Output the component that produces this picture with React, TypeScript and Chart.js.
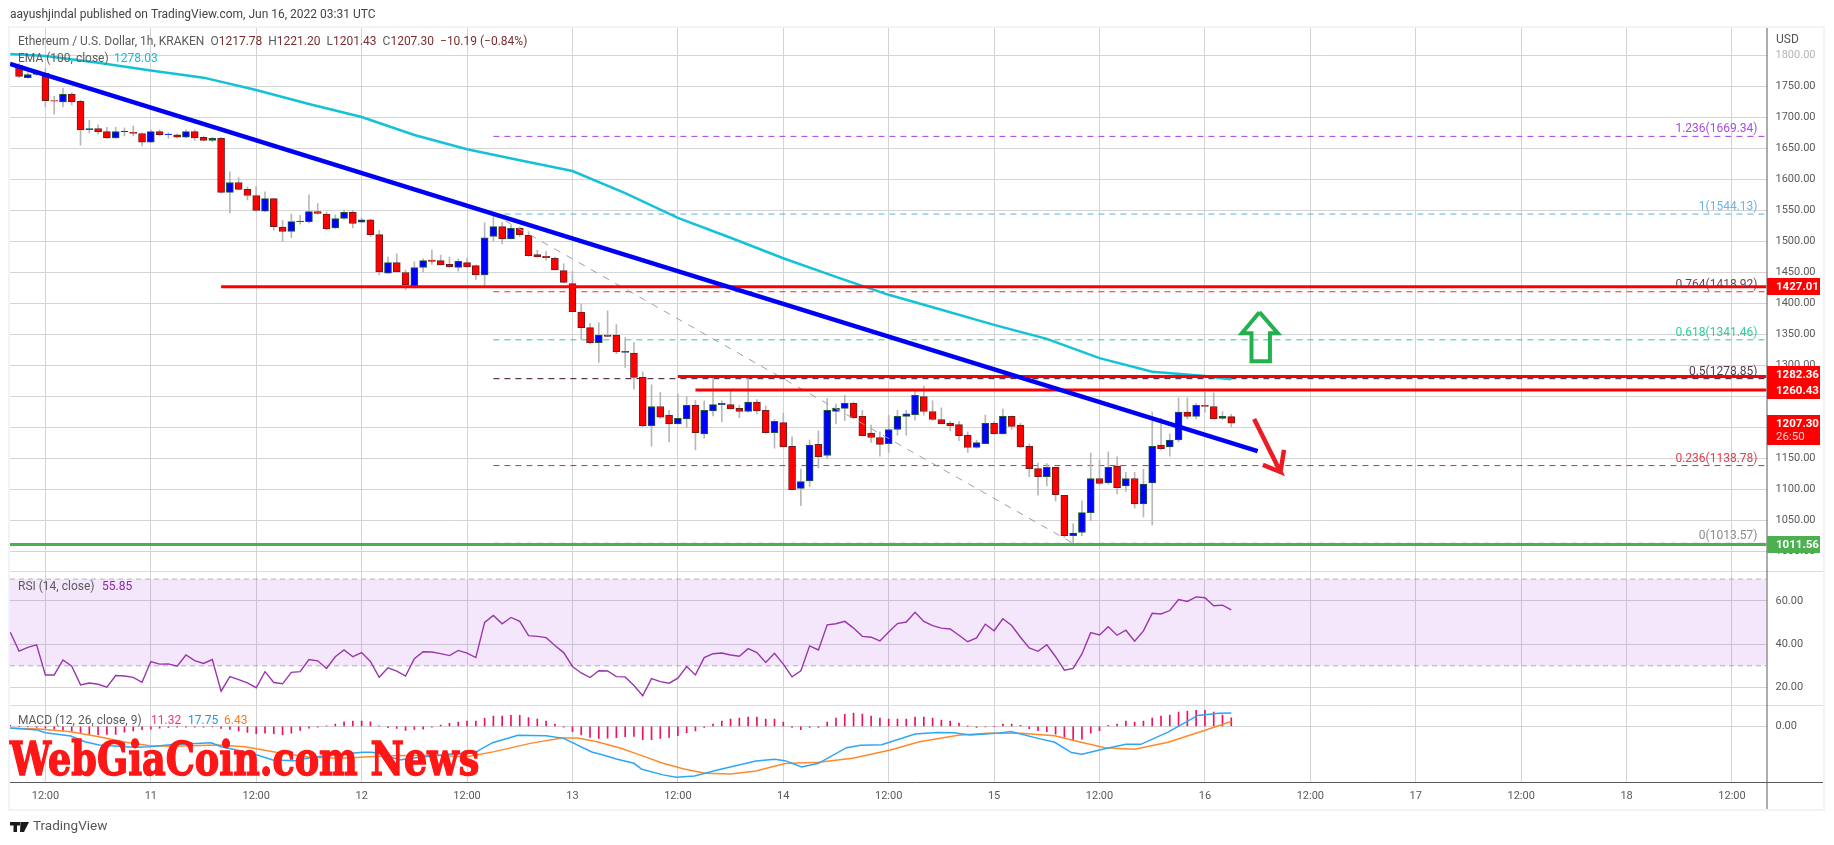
import React, { useEffect, useRef } from "react";
import { Chart, registerables } from "chart.js";

Chart.register(...registerables);

// x positions are hours since 10 Jun 12:00
const firstCandleHour = -3;
const opens = [1784,1764,1769,
1771,1727,1725,1737,1726,1680,1682,1677,1667,1677,
1676,1674,1660,1677,1672,1672,1668,1677,1668,1663,
1666,1579,1595,1584,1574,1549,1569,1523,1516,1532,
1532,1548,1544,1522,1537,1547,1531,1535,1511,1449,
1466,1450,1425,1458,1470,1469,1463,1458,1466,1461,
1446,1508,1524,1504,1521,1510,1479,1476,1473,1453,
1432,1386,1361,1337,1349,1349,1321,1320,1281,1203,
1234,1220,1206,1214,1236,1190,1227,1237,1237,1231,
1226,1241,1228,1192,1208,1170,1102,1114,1173,1155,
1226,1231,1239,1218,1191,1184,1174,1197,1218,1221,
1250,1226,1213,1207,1205,1188,1168,1174,1207,1190,
1218,1204,1170,1134,1121,1136,1091,1026,1031,1063,
1118,1111,1138,1106,1118,1077,1111,1172,1169,1180,
1225,1218,1236,1234,1215,1217.78];
const closes = [1766,1769,1773,
1727,1726,1737,1725,1680,1682,1677,1667,1677,1678,
1674,1660,1677,1672,1673,1668,1677,1667,1663,1666,
1579,1595,1584,1574,1550,1569,1524,1516,1532,1533,
1548,1545,1520,1537,1547,1529,1535,1511,1451,1466,
1451,1430,1458,1469,1468,1462,1459,1468,1459,1446,
1506,1524,1504,1521,1511,1477,1475,1474,1454,1434,
1387,1361,1337,1349,1347,1322,1323,1281,1203,1234,
1217,1206,1215,1236,1192,1228,1237,1239,1230,1226,
1241,1227,1192,1210,1169,1100,1113,1172,1153,1228,
1231,1239,1216,1187,1184,1173,1197,1218,1222,1252,
1226,1213,1206,1203,1187,1168,1176,1207,1190,1218,
1202,1169,1134,1121,1136,1092,1026,1030,1063,1118,
1110,1136,1103,1118,1077,1109,1170,1166,1180,1225,
1218,1236,1234,1214,1218,1207.30];
const highs = [1787,1772,1776,
1779,1734,1747,1740,1728,1695,1688,1684,1684,1683,
1686,1675,1680,1680,1675,1673,1680,1680,1670,1668,
1668,1612,1603,1588,1589,1580,1569,1534,1544,1542,
1575,1561,1547,1543,1551,1550,1538,1536,1518,1475,
1480,1454,1467,1472,1486,1478,1475,1472,1473,1462,
1530,1541,1531,1526,1523,1516,1486,1484,1475,1464,
1452,1399,1368,1369,1388,1366,1345,1337,1290,1269,
1257,1228,1254,1250,1244,1243,1281,1243,1259,1236,
1279,1245,1235,1213,1223,1185,1133,1180,1195,1247,
1238,1252,1241,1228,1204,1193,1220,1228,1228,1261,
1267,1243,1232,1210,1210,1193,1180,1220,1210,1230,
1219,1207,1174,1143,1142,1136,1091,1045,1082,1159,
1148,1161,1153,1128,1128,1133,1225,1215,1190,1248,
1248,1239,1257,1256,1226,1221.20];
const lows = [1764,1763,1768,
1717,1705,1717,1720,1655,1675,1673,1666,1666,1670,
1670,1654,1659,1670,1666,1667,1667,1663,1662,1661,
1578,1546,1583,1567,1549,1548,1518,1500,1506,1528,
1530,1544,1519,1521,1536,1522,1530,1508,1446,1449,
1451,1422,1425,1451,1463,1462,1458,1452,1458,1439,
1428,1501,1496,1504,1508,1476,1475,1470,1454,1433,
1386,1342,1335,1305,1346,1319,1297,1262,1201,1170,
1215,1177,1206,1200,1164,1183,1219,1209,1230,1216,
1225,1222,1191,1167,1169,1099,1074,1105,1135,1150,
1206,1211,1215,1187,1176,1154,1160,1188,1188,1212,
1220,1212,1206,1195,1179,1160,1167,1174,1190,1190,
1197,1168,1121,1091,1106,1082,1023,1014,1026,1050,
1109,1109,1093,1097,1070,1056,1043,1164,1154,1177,
1214,1214,1225,1214,1213,1201.43];

const emaHours = [-4,0,6,12,18,24,30,36,42,48,54,60,66,72,78,84,90,96,102,108,114,120,126,132,135];
const emaValues = [1802,1799,1788,1775.5,1764,1744,1721.5,1700.5,1671.5,1648.5,1631,1613.5,1578,1538,1506,1473,1443,1414,1390,1365.5,1343,1312,1290,1283,1278.03];

const trendHours = [-4.03,138];
const trendPrices = [1786,1162];

const firstIndicatorHour = -4;
const rsiValues = [45.5,36.8,38.5,39.7,25.8,25.8,32.7,29.8,21.2,22.1,21.5,20.2,25.5,25.3,24.7,22.4,32,30.8,30.9,29.8,35,32.4,31.1,32.9,18.3,25,23.6,22.1,19.9,27.3,22.3,21.7,27,27.3,32.9,32.3,28.8,34.2,37.3,34.2,36.1,32,24.7,29.1,27.6,25.3,33.3,36.5,36.4,35.6,34.7,37.1,35.9,33.8,50,53.2,49.4,52.3,50.5,43.9,43.6,43,39.4,36.1,29.7,26.7,24.6,27.7,27.6,25,24.9,20.9,16.2,24.1,22.7,22,24.3,29.7,25.8,33.8,35.6,35.9,35,34.4,37.9,36.1,31.5,35.8,30.8,24.9,27.7,39.2,37.3,48.9,49.4,50.5,47.4,43.6,43.2,41.5,45.6,49.5,50.2,54.7,50.5,48.5,47.4,47,44.1,41.1,42.9,49.2,46.2,51.7,48.6,43.2,38.3,36.7,39.7,34.2,28,28.8,35.5,45.3,44.2,48,44.1,46.4,41.4,46.1,54.2,53.9,55.5,60.6,59.7,61.8,61.4,57.7,58,55.85];
const macdHist = [1.3,0,-0.4,-1.3,-2.2,-3.5,-5.3,-6.6,-8.8,-11,-11,-10.5,-10.5,-7.5,-6.1,-4.4,-3.5,-2.2,-1.3,-0.9,-0.9,-0.9,-0.9,-0.4,-2.6,-3.9,-6.1,-7.9,-9.6,-8.8,-9.6,-11,-8.8,-5.3,-2.2,-0.9,0.9,3.1,6.1,7,7,6.1,0.9,-1.8,-2.6,-5.3,-3.9,-3.5,-0.9,1.8,3.9,5.7,7,7,10.5,13.6,13.6,14.5,14.5,11.8,9.6,7,3.1,-0.9,-6.6,-11.4,-14.5,-15.8,-15.4,-14.9,-13.6,-13.2,-17.5,-17.5,-15.8,-14.5,-12.3,-8.3,-6.1,-1.3,3.1,7,9.6,11,12.3,12.3,9.6,9.6,5.7,-1.3,-4.4,-1.3,-1.3,5.7,11,15.8,17.5,16.2,13.6,11,9.6,9.6,9.6,12.3,12.3,11,8.3,7,4.4,0.4,-1.3,-0.4,0,3.1,3.1,1.3,-3.1,-5.7,-7,-10.1,-14.5,-18.4,-16.7,-8.8,-5.7,1.3,3.1,7,5.7,7,11,13.6,14.9,18.9,20.2,21.1,21.1,18.9,14.9,11.32];

const macdHours = [-4,-0.9,0,2.9,4.5,6.1,7.9,10.1,11.9,14.2,18.9,20,21.8,24.1,25.9,28.4,30.4,33.6,36.1,37.2,38.7,40.3,42.6,46.2,48.9,50.9,53.8,57,59,62.2,63.1,65,67,67.9,70.3,71.8,73.9,76.5,80.9,83,84.2,86.1,88,91.2,92.8,95.2,99,101.5,103.4,105.3,108.2,109.9,113,114.9,116.8,118,120.6,123,124.7,127.8,131.2,133.6,135];
const macdValues = [-2.2,-4.8,-8.3,-12.7,-20.2,-24.6,-25.9,-27.6,-26.8,-24.1,-21.5,-26.8,-31.1,-37.7,-44.3,-45.2,-40.8,-36.8,-34.2,-34.2,-37.7,-44.3,-40.8,-36.4,-34.6,-21.5,-11.8,-12.3,-15.8,-33.8,-36.4,-43,-48.7,-56.6,-64,-67.1,-65.4,-57.5,-45.6,-43.4,-45.2,-53.5,-48.7,-28.1,-25,-24.1,-10.1,-7.9,-8.3,-11.4,-9.2,-6.6,-15.8,-21,-34.6,-36.8,-29.4,-23.7,-23.7,-7.5,14.5,17.5,17.75];
const signalHours = [-4,-0.7,2.9,6.1,9.2,11.9,14.6,19.6,22.7,26.4,30,33.6,35.4,39,44.4,48,51.1,55.2,58.8,60.6,62.8,65.5,67.9,70.3,72.7,75.1,78,80.9,84.2,88,91.9,96.2,99.5,103.9,107.2,111,114.9,117.3,120.6,124,127.8,132.1,135];
const signalValues = [-2.6,-3.5,-7,-13.6,-21,-25.4,-26.3,-24.6,-26.8,-34.6,-40.8,-42.1,-41.2,-38.6,-38.2,-39.9,-33.3,-22.4,-15.4,-15.4,-20.2,-28.9,-38.6,-48.7,-56.1,-61.8,-62.7,-58.8,-49.1,-47.4,-42.1,-31.1,-20.2,-11.8,-9.2,-9.2,-12.3,-19.3,-28.1,-30.3,-21,-4.8,6.43];

const fibLevels = ["1.236","1","0.764","0.618","0.5","0.236","0"];
const fibPrices = [1669.34,1544.13,1418.92,1341.46,1278.85,1138.78,1013.57];
const fibColors = ["#a53be0","#5ab0e6","#e0303a","#2fc996","#3a0a30","#c9303a","#9a9a9a"];
const fibLabelColors = ["#a84be0","#6ab4e8","#7a3a50","#2fcf9a","#5a3a55","#e0404a","#8a8a8a"];
const fibStartHour = 51;
const fibEndHour = 195.7;
const fibDiagonalHours = [51,117];
const fibDiagonalPrices = [1544.13,1013.57];

const resistanceLevels = [1427.01,1282.36,1260.43];
const resistanceStarts = [20,72,74];
const supportLevel = 1011.56;

const priceTicks = [1000,1050,1100,1150,1200,1250,1300,1350,1400,1450,1500,1550,1600,1650,1700,1750,1800];
const rsiTicks = [20,40,60];
const macdTicks = [0];
const timeTickHours = [0,12,24,36,48,60,72,84,96,108,120,132,144,156,168,180,192];
const timeTickLabels = ["12:00","11","12:00","12","12:00","13","12:00","14","12:00","15","12:00","16","12:00","17","12:00","18","12:00"];

const upArrowHours = [138.2,140.3,139.4,139.4,137.3,137.3,136.2,138.2];
const upArrowPrices = [1386,1352,1352,1307,1307,1352,1352,1386];
const downArrowHours = [137.6,140.6,138.6,140.6,141];
const downArrowPrices = [1214,1128.5,1140,1128.5,1164];

const xMin = -4.03, xMax = 195.93;
const FONT = "Roboto, 'Open Sans', sans-serif";
const pts = (xs: number[], ys: number[]) => xs.map((x, i) => ({ x, y: ys[i] }));
const GRID = "#d4d4d4";

const overlay = {
  id: "overlay",
  beforeDraw(chart: any) {
    const c = chart.ctx;
    c.save();
    c.fillStyle = "#fff";
    c.fillRect(0, 0, 1834, 845);
    c.restore();
  },
  afterDraw(chart: any) {
    const c = chart.ctx;
    const sp = chart.scales.yPrice;
    const area = chart.chartArea;
    const R = area.right;
    c.save();

    // frame, separators and axes
    c.strokeStyle = "#f0f3fa";
    c.lineWidth = 2;
    c.strokeRect(9, 27, 1815, 783);
    c.strokeStyle = "#dcdcdc";
    c.lineWidth = 1;
    c.beginPath();
    c.moveTo(10, 571.5); c.lineTo(1823, 571.5);
    c.moveTo(10, 705.5); c.lineTo(1823, 705.5);
    c.stroke();
    c.strokeStyle = "#5a5a5a";
    c.beginPath();
    c.moveTo(10, 782.5); c.lineTo(1823, 782.5);
    c.moveTo(R + 0.5, 28); c.lineTo(R + 0.5, 809);
    c.stroke();

    const text = (s: string, x: number, y: number, color: string, font: string, align: CanvasTextAlign = "left") => {
      c.font = font;
      c.fillStyle = color;
      c.textAlign = align;
      c.textBaseline = "middle";
      c.fillText(s, x, y);
      return x + c.measureText(s).width;
    };

    const small = `12px ${FONT}`;
    text("aayushjindal published on TradingView.com, Jun 16, 2022 03:31 UTC", 10, 15, "#444", small);

    // legend
    const legend = `12px ${FONT}`;
    const dark = "#5a5a5a", val = "#7a2e2e";
    let x = 18;
    x = text("Ethereum / U.S. Dollar, 1h, KRAKEN", x, 42, dark, legend) + 6;
    x = text("O", x, 42, dark, legend);
    x = text("1217.78", x, 42, val, legend) + 6;
    x = text("H", x, 42, dark, legend);
    x = text("1221.20", x, 42, val, legend) + 6;
    x = text("L", x, 42, dark, legend);
    x = text("1201.43", x, 42, val, legend) + 6;
    x = text("C", x, 42, dark, legend);
    x = text("1207.30", x, 42, val, legend) + 6;
    text("−10.19 (−0.84%)", x, 42, val, legend);
    text("EMA (100, close)", 18, 59, dark, legend);
    text("1278.03", 114, 59, "#17bcd4", legend);
    text("RSI (14, close)", 18, 587, dark, legend);
    text("55.85", 102, 587, "#8e24aa", legend);
    text("MACD (12, 26, close, 9)", 18, 721, dark, legend);
    text("11.32", 151, 721, "#f5347f", legend);
    text("17.75", 188, 721, "#2196f3", legend);
    text("6.43", 224, 721, "#ff7a1a", legend);
    text("USD", 1776, 40, "#555", small);

    // fib labels
    fibLevels.forEach((lv, i) => {
      const y = sp.getPixelForValue(fibPrices[i]);
      text(`${lv}(${fibPrices[i].toFixed(2)})`, 1757.5, y - 7, fibLabelColors[i], small, "right");
    });

    // price boxes
    const box = (top: number, bottom: number, color: string, lines: string[]) => {
      c.fillStyle = color;
      c.fillRect(R + 0.5, top, 53, bottom - top);
      if (lines.length === 1) {
        text(lines[0], 1776, (top + bottom) / 2 + 0.5, "#fff", `bold 11.5px ${FONT}`);
      } else {
        text(lines[0], 1776, top + 9, "#fff", `bold 11.5px ${FONT}`);
        text(lines[1], 1776, top + 22, "#ffd0d0", `11.5px ${FONT}`);
      }
    };
    box(278, 295, "#ff0000", ["1427.01"]);
    box(366, 383, "#ff0000", ["1282.36"]);
    box(382, 399, "#ff0000", ["1260.43"]);
    box(415, 445, "#ff0000", ["1207.30", "26:50"]);
    box(536, 553, "#4caf50", ["1011.56"]);

    // watermark
    c.save();
    c.translate(10, 775);
    c.scale(0.795, 1);
    c.font = `bold 46px 'DejaVu Serif', serif`;
    c.fillStyle = "#ff1616";
    c.strokeStyle = "#ff1616";
    c.lineWidth = 1.5;
    c.textAlign = "left";
    c.textBaseline = "alphabetic";
    c.fillText("WebGiaCoin.com News", 0, 0);
    c.strokeText("WebGiaCoin.com News", 0, 0);
    c.restore();

    // footer
    c.fillStyle = "#1a1a1a";
    c.fillRect(10, 822, 10, 3.5);
    c.fillRect(13.5, 822, 3.5, 10);
    c.beginPath();
    c.moveTo(20.5, 822); c.lineTo(29, 822); c.lineTo(24, 832); c.lineTo(20, 832);
    c.closePath();
    c.fill();
    text("TradingView", 33, 827, "#555", `13.5px ${FONT}`);
    c.restore();
  },
};

export default function App() {
  const ref = useRef<HTMLCanvasElement>(null);
  useEffect(() => {
    const candleHours = opens.map((_, i) => firstCandleHour + i);
    const indHours = rsiValues.map((_, i) => firstIndicatorHour + i);
    const isUp = (i: number) => closes[i] >= opens[i];
    const lineBase = { type: "line", pointRadius: 0, borderWidth: 1, tension: 0, fill: false, yAxisID: "yPrice" };

    const datasets: any[] = [
      {
        type: "bar", yAxisID: "yPrice", order: 20, barThickness: 1, grouped: false,
        data: candleHours.map((x, i) => ({ x, y: [lows[i], highs[i]] })),
        backgroundColor: "#b8b8b8",
      },
      {
        type: "bar", yAxisID: "yPrice", order: 19, barThickness: 7, grouped: false, borderWidth: 1, borderSkipped: false,
        data: candleHours.map((x, i) => ({ x, y: [opens[i], closes[i]] })),
        backgroundColor: (ctx: any) => (isUp(ctx.dataIndex) ? "#0000ff" : "#ff0000"),
        borderColor: (ctx: any) => (isUp(ctx.dataIndex) ? "#1f5a36" : "#6e1c1c"),
      },
      { ...lineBase, order: 15, borderColor: "#14c2d8", borderWidth: 2.5, data: pts(emaHours, emaValues) },
      ...fibLevels.map((_, i) => ({
        ...lineBase, order: 22, borderColor: fibColors[i], borderDash: [6, 5],
        data: pts([fibStartHour, fibEndHour], [fibPrices[i], fibPrices[i]]),
      })),
      { ...lineBase, order: 14, borderColor: "#a0a0a0", borderDash: [7, 7], data: pts(fibDiagonalHours, fibDiagonalPrices) },
      ...resistanceLevels.map((lv, i) => ({
        ...lineBase, order: 5, borderColor: "#ff0000", borderWidth: 3,
        data: pts([resistanceStarts[i], xMax], [lv, lv]),
      })),
      { ...lineBase, order: 5, borderColor: "#4caf50", borderWidth: 3, data: pts([xMin, xMax], [supportLevel, supportLevel]) },
      { ...lineBase, order: 4, borderColor: "#0000f5", borderWidth: 4.5, data: pts(trendHours, trendPrices) },
      { ...lineBase, order: 3, borderColor: "#22b14c", borderWidth: 4, borderJoinStyle: "miter", data: pts(upArrowHours, upArrowPrices) },
      { ...lineBase, order: 3, borderColor: "#ed1c24", borderWidth: 4.5, data: pts(downArrowHours, downArrowPrices) },
      {
        ...lineBase, yAxisID: "yRsi", order: 12, borderColor: "#b8b0bc", borderDash: [5, 4],
        data: pts([xMin, xMax], [70, 70]), fill: { value: 30 }, backgroundColor: "rgba(156,39,226,0.11)",
      },
      { ...lineBase, yAxisID: "yRsi", order: 12, borderColor: "#b8b0bc", borderDash: [5, 4], data: pts([xMin, xMax], [30, 30]) },
      { ...lineBase, yAxisID: "yRsi", order: 10, borderColor: "#9a35ad", borderWidth: 1.4, data: pts(indHours, rsiValues) },
      {
        type: "bar", yAxisID: "yMacd", order: 12, barThickness: 1, grouped: false,
        data: pts(indHours, macdHist), backgroundColor: "#f0105f",
      },
      { ...lineBase, yAxisID: "yMacd", order: 11, borderColor: "#ff8a2e", borderWidth: 1.5, data: pts(signalHours, signalValues) },
      { ...lineBase, yAxisID: "yMacd", order: 10, borderColor: "#2ea6f5", borderWidth: 1.5, data: pts(macdHours, macdValues) },
    ];

    const yCommon = (stackWeight: number, ticks: number[], min: number, max: number) => ({
      type: "linear", position: "right", stack: "panes", stackWeight, min, max,
      border: { display: false },
      grid: { color: GRID, lineWidth: 1, drawTicks: false },
      afterFit(s: any) { s.width = 57; },
      afterBuildTicks(s: any) { s.ticks = ticks.map((value) => ({ value })); },
      ticks: {
        padding: 9, font: { family: FONT, size: 11 },
        color: (c: any) => (c.tick && c.tick.value === 1800 ? "#b5b5b5" : "#5a5a5a"),
        callback: (v: number) => v.toFixed(2),
        autoSkip: false, maxRotation: 0,
      },
    });

    const chart = new Chart(ref.current as HTMLCanvasElement, {
      data: { datasets },
      plugins: [overlay],
      options: {
        animation: false,
        responsive: false,
        devicePixelRatio: 1,
        layout: { padding: { left: 10, right: 10.5, top: 27.5, bottom: 36 } },
        plugins: { legend: { display: false }, tooltip: { enabled: false }, title: { display: false } },
        events: [],
        scales: {
          x: {
            type: "linear", min: xMin, max: xMax, offset: false,
            border: { display: false },
            grid: { color: GRID, lineWidth: 1, drawTicks: false, offset: false },
            afterFit(s: any) { s.height = 27; },
            afterBuildTicks(s: any) { s.ticks = timeTickHours.map((value) => ({ value })); },
            ticks: {
              padding: 8, maxRotation: 0, autoSkip: false, font: { family: FONT, size: 11 }, color: "#5a5a5a",
              callback: (v: number) => timeTickLabels[timeTickHours.indexOf(v)],
            },
          },
          yPrice: yCommon(544, priceTicks, 968.1, 1844.8),
          yRsi: yCommon(134, rsiTicks, 11.7, 73.5),
          yMacd: yCommon(76.5, macdTicks, -73.4, 27.6),
        },
      } as any,
    } as any);
    return () => chart.destroy();
  }, []);
  return (
    <canvas
      ref={ref}
      width={1834}
      height={845}
      style={{ position: "absolute", left: 0, top: 0, width: 1834, height: 845 }}
    />
  );
}
